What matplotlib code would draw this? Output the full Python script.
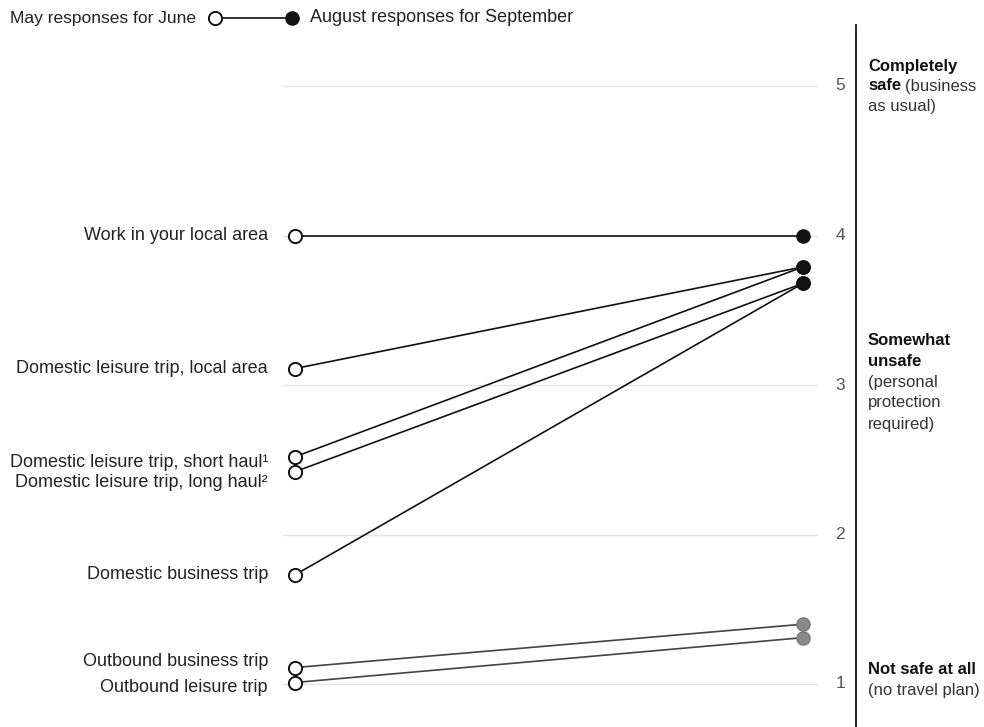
import matplotlib
matplotlib.use("Agg")
import matplotlib.pyplot as plt
from matplotlib.transforms import offset_copy

plt.rcParams['font.family'] = ['Liberation Sans', 'DejaVu Sans']

categories = ["Work in your local area",
              "Domestic leisure trip, local area",
              "Domestic leisure trip, short haul¹",
              "Domestic leisure trip, long haul²",
              "Domestic business trip",
              "Outbound business trip",
              "Outbound leisure trip"]
may_june = [4.00, 3.11, 2.52, 2.42, 1.73, 1.11, 1.01]
aug_sept = [4.00, 3.79, 3.79, 3.68, 3.68, 1.40, 1.31]
outbound = [False, False, False, False, False, True, True]
yticks = [1, 2, 3, 4, 5]
legend_left = "May responses for June"
legend_right = "August responses for September"

# label nudges (pixels, downward positive) to avoid overlap
label_nudge = [0, 0, 6, 11, 0, -6, 5]

W, H = 984, 727
fig = plt.figure(figsize=(W/100, H/100), dpi=100)
ax_l, ax_r = 283, 818
ax = fig.add_axes([ax_l/W, 0, (ax_r-ax_l)/W, 1])
x0p, x1p = 295, 803
ppu = x1p - x0p
ax.set_xlim(-(x0p-ax_l)/ppu, 1 + (ax_r-x1p)/ppu)
ypu = 149.5
ax.set_ylim(1 - (H-684)/ypu, 5 + 86/ypu)
ax.axis('off')

for t in yticks:
    ax.axhline(t, color='#e2e2e2', lw=1.0, zorder=0)
    ax.text(1 + 37/ppu, t, str(t), ha='center', va='center', fontsize=12.5,
            color='#555555', clip_on=False)

for i, cat in enumerate(categories):
    lc = '#444444' if outbound[i] else '#111111'
    ax.plot([0, 1], [may_june[i], aug_sept[i]], color=lc, lw=1.2, zorder=2)
for i, cat in enumerate(categories):
    ax.plot([0], [may_june[i]], 'o', ms=9.5, mfc='white', mec='#111111', mew=1.4, zorder=3)
    if outbound[i]:
        ax.plot([1], [aug_sept[i]], 'o', ms=9.5, mfc='#8a8a8a', mec='#7a7a7a', mew=1.0, zorder=3)
    else:
        ax.plot([1], [aug_sept[i]], 'o', ms=9.5, mfc='#111111', mec='#111111', mew=1.0, zorder=3)
    tr = offset_copy(ax.transData, fig=fig, x=0, y=-label_nudge[i], units='dots')
    ax.text(-27/ppu, may_june[i], cat, ha='right', va='center', fontsize=13,
            color='#222222', clip_on=False, transform=tr)

# Vertical divider
fig.add_artist(plt.Line2D([856/W, 856/W], [0, 1 - 25/H], color='#111111', lw=1.3))

# Legend
fy = 1 - 18/H
fig.text(10/W, fy, legend_left, ha='left', va='center', fontsize=12.5, color='#222222')
fig.add_artist(plt.Line2D([215/W, 292/W], [fy, fy], color='#111111', lw=1.2))
fig.add_artist(plt.Line2D([215/W], [fy], marker='o', ms=9.5, mfc='white', mec='#111111', mew=1.4))
fig.add_artist(plt.Line2D([292/W], [fy], marker='o', ms=9.5, mfc='#111111', mec='#111111'))
fig.text(310/W, fy, legend_right, ha='left', va='center', fontsize=13, color='#222222')

# Right-side labels with mixed weights
fig.canvas.draw()
renderer = fig.canvas.get_renderer()

def rich_line(x_px, y_px, parts):
    x = x_px
    for txt, bold in parts:
        t = fig.text(x/W, 1 - y_px/H, txt, ha='left', va='center', fontsize=12,
                     fontweight='bold' if bold else 'normal',
                     color='#111111' if bold else '#333333')
        bb = t.get_window_extent(renderer)
        x += bb.width + 4

rx = 868
rich_line(rx, 66, [("Completely", True)])
rich_line(rx, 86, [("safe", True), ("(business", False)])
rich_line(rx, 106, [("as usual)", False)])
rich_line(rx, 340, [("Somewhat", True)])
rich_line(rx, 361, [("unsafe", True)])
rich_line(rx, 382, [("(personal", False)])
rich_line(rx, 403, [("protection", False)])
rich_line(rx, 424, [("required)", False)])
rich_line(rx, 670, [("Not safe at all", True)])
rich_line(rx, 691, [("(no travel plan)", False)])

fig.savefig("out.png", dpi=100)
